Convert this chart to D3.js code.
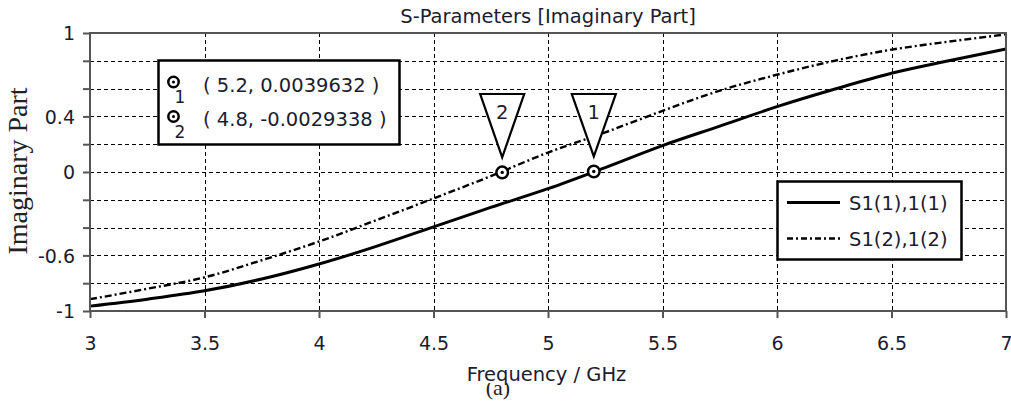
<!DOCTYPE html>
<html><head><meta charset="utf-8">
<script src="https://cdn.jsdelivr.net/npm/d3@7/dist/d3.min.js"></script>
<style>body{margin:0;background:#fff;overflow:hidden}svg{display:block}</style>
</head><body><svg id="c" width="1011" height="406"></svg>
<script>
// ---- data ----
const freqGHz = [3, 3.25, 3.5, 3.75, 4, 4.25, 4.5, 4.75, 5, 5.25, 5.5, 5.75, 6, 6.25, 6.5, 6.75, 7];
const s11Imag = [-0.965, -0.915, -0.855, -0.77, -0.662, -0.535, -0.395, -0.255, -0.12, 0.032, 0.19, 0.33, 0.47, 0.595, 0.71, 0.80, 0.885];
const s22Imag = [-0.915, -0.84, -0.758, -0.635, -0.50, -0.347, -0.19, -0.03, 0.14, 0.285, 0.44, 0.585, 0.70, 0.80, 0.88, 0.938, 0.99];
const seriesNames = ["S1(1),1(1)", "S1(2),1(2)"];
const xTicks = [3, 3.5, 4, 4.5, 5, 5.5, 6, 6.5, 7];
const xTickLabels = ["3", "3.5", "4", "4.5", "5", "5.5", "6", "6.5", "7"];
const yTicks = [-1, -0.8, -0.6, -0.4, -0.2, 0, 0.2, 0.4, 0.6, 0.8, 1];
const yTickLabelValues = [1, 0.4, 0, -0.6, -1];
const yTickLabels = ["1", "0.4", "0", "-0.6", "-1"];
const markerIds = ["1", "2"];
const markerFreq = [5.2, 4.8];
const markerVal = [0.0039632, -0.0029338];
const markerText = ["( 5.2, 0.0039632 )", "( 4.8, -0.0029338 )"];
const titleText = "S-Parameters [Imaginary Part]";
const xLabelText = "Frequency / GHz";
const yLabelText = "Imaginary Part";
const captionText = "(a)";

// ---- layout ----
const svg = d3.select("#c");
const L = 90, R = 1006, T = 33, B = 311;
const x = d3.scaleLinear().domain([3, 7]).range([L, R]);
const y = d3.scaleLinear().domain([-1, 1]).range([B, T]);
const sans = "'DejaVu Sans', Verdana, sans-serif";
const serif = "'Liberation Serif', 'Times New Roman', serif";
const txtCol = "#1c1c30";

// grid
const grid = svg.append("g").attr("stroke", "#000").attr("stroke-width", 1).attr("stroke-dasharray", "4,3");
grid.selectAll("line.h").data(yTicks.filter(v => v > -1 && v < 1)).join("line")
  .attr("x1", L).attr("x2", R)
  .attr("y1", d => Math.round(y(d)) + 0.5).attr("y2", d => Math.round(y(d)) + 0.5);
grid.selectAll("line.v").data(xTicks.filter(v => v > 3 && v < 7)).join("line")
  .attr("y1", T).attr("y2", B)
  .attr("x1", d => Math.round(x(d)) + 0.5).attr("x2", d => Math.round(x(d)) + 0.5);

// curves
const line = d3.line().x((d, i) => x(freqGHz[i])).y(d => y(d)).curve(d3.curveMonotoneX);
svg.append("path").attr("d", line(s22Imag)).attr("fill", "none").attr("stroke", "#000")
  .attr("stroke-width", 2.4).attr("stroke-dasharray", "7,3,2,3");
svg.append("path").attr("d", line(s11Imag)).attr("fill", "none").attr("stroke", "#000")
  .attr("stroke-width", 3);

// axes
const axCol = "#555";
const yAxis = d3.axisLeft(y).tickValues(yTicks).tickSize(7)
  .tickFormat(d => {
    const k = yTickLabelValues.findIndex(v => Math.abs(v - d) < 1e-9);
    return k >= 0 ? yTickLabels[k] : "";
  });
const gy = svg.append("g").attr("transform", `translate(${L},0)`).call(yAxis);
gy.select(".domain").remove();
gy.selectAll(".tick line").attr("stroke", axCol).attr("stroke-width", 2);
gy.selectAll(".tick text").attr("x", -15).attr("dy", "0.36em")
  .attr("font-family", sans).attr("font-size", "19px").attr("fill", txtCol);

const xAxis = d3.axisBottom(x).tickValues(xTicks).tickSize(7).tickFormat((d, i) => xTickLabels[i]);
const gx = svg.append("g").attr("transform", `translate(0,${B})`).call(xAxis);
gx.select(".domain").remove();
gx.selectAll(".tick line").attr("stroke", axCol).attr("stroke-width", 2);
gx.selectAll(".tick text").attr("y", 39).attr("dy", 0)
  .attr("font-family", sans).attr("font-size", "19px").attr("fill", txtCol);

// frame
svg.append("rect").attr("x", L).attr("y", T).attr("width", R - L).attr("height", B - T)
  .attr("fill", "none").attr("stroke", axCol).attr("stroke-width", 2);

// markers on curves
markerIds.forEach((id, i) => {
  const mx = x(markerFreq[i]), my = y(markerVal[i]);
  const half = 22, top = 94, apex = my - 15;
  svg.append("path")
    .attr("d", `M${mx - half},${top}L${mx + half},${top}L${mx},${apex}Z`)
    .attr("fill", "#fff").attr("stroke", "#000").attr("stroke-width", 2.2).attr("stroke-linejoin", "miter");
  svg.append("text").attr("x", mx).attr("y", 119).attr("text-anchor", "middle")
    .attr("font-family", sans).attr("font-size", "19.5px").attr("fill", txtCol).text(id);
  svg.append("circle").attr("cx", mx).attr("cy", my).attr("r", 5.8)
    .attr("fill", "#fff").attr("stroke", "#000").attr("stroke-width", 2.5);
  svg.append("circle").attr("cx", mx).attr("cy", my).attr("r", 1.7).attr("fill", "#000");
});

// marker legend (top-left)
svg.append("rect").attr("x", 158.5).attr("y", 60.5).attr("width", 241).attr("height", 84)
  .attr("fill", "#fff").attr("stroke", "#000").attr("stroke-width", 2.5);
const mlRows = [82, 116.5];
markerIds.forEach((id, i) => {
  const cy = mlRows[i];
  svg.append("circle").attr("cx", 173.5).attr("cy", cy).attr("r", 5.2)
    .attr("fill", "#fff").attr("stroke", "#000").attr("stroke-width", 2.5);
  svg.append("circle").attr("cx", 173.5).attr("cy", cy).attr("r", 1.5).attr("fill", "#000");
  svg.append("text").attr("x", 180).attr("y", cy + 21).attr("text-anchor", "middle")
    .attr("font-family", sans).attr("font-size", "17px").attr("fill", txtCol).text(id);
  svg.append("text").attr("x", 203).attr("y", cy + 9.5)
    .attr("font-family", sans).attr("font-size", "19.5px").attr("fill", txtCol).text(markerText[i]);
});

// series legend (right)
svg.append("rect").attr("x", 777.5).attr("y", 181.5).attr("width", 184).attr("height", 78)
  .attr("fill", "#fff").attr("stroke", "#000").attr("stroke-width", 2.5);
const slRows = [202.5, 238.5];
const slDash = [null, "6,3,2,3"];
const slWidth = [3, 2.4];
seriesNames.forEach((nm, i) => {
  svg.append("line").attr("x1", 787).attr("x2", 840).attr("y1", slRows[i]).attr("y2", slRows[i])
    .attr("stroke", "#000").attr("stroke-width", slWidth[i]).attr("stroke-dasharray", slDash[i]);
  svg.append("text").attr("x", 849).attr("y", slRows[i] + 7.5)
    .attr("font-family", sans).attr("font-size", "19.5px").attr("fill", txtCol).text(nm);
});

// title & labels
svg.append("text").attr("x", 548).attr("y", 23).attr("text-anchor", "middle")
  .attr("font-family", sans).attr("font-size", "19.5px").attr("fill", txtCol).text(titleText);
svg.append("text").attr("transform", "translate(27,171) rotate(-90)").attr("text-anchor", "middle")
  .attr("font-family", serif).attr("font-size", "28px").attr("fill", "#222").text(yLabelText);
svg.append("text").attr("x", 498).attr("y", 395).attr("text-anchor", "middle")
  .attr("font-family", serif).attr("font-size", "22px").attr("fill", "#222").text(captionText);
svg.append("rect").attr("x", 460).attr("y", 360).attr("width", 175).attr("height", 23).attr("fill", "#fff");
svg.append("text").attr("x", 546.5).attr("y", 381).attr("text-anchor", "middle")
  .attr("font-family", sans).attr("font-size", "19.5px").attr("fill", txtCol).text(xLabelText);
</script></body></html>
